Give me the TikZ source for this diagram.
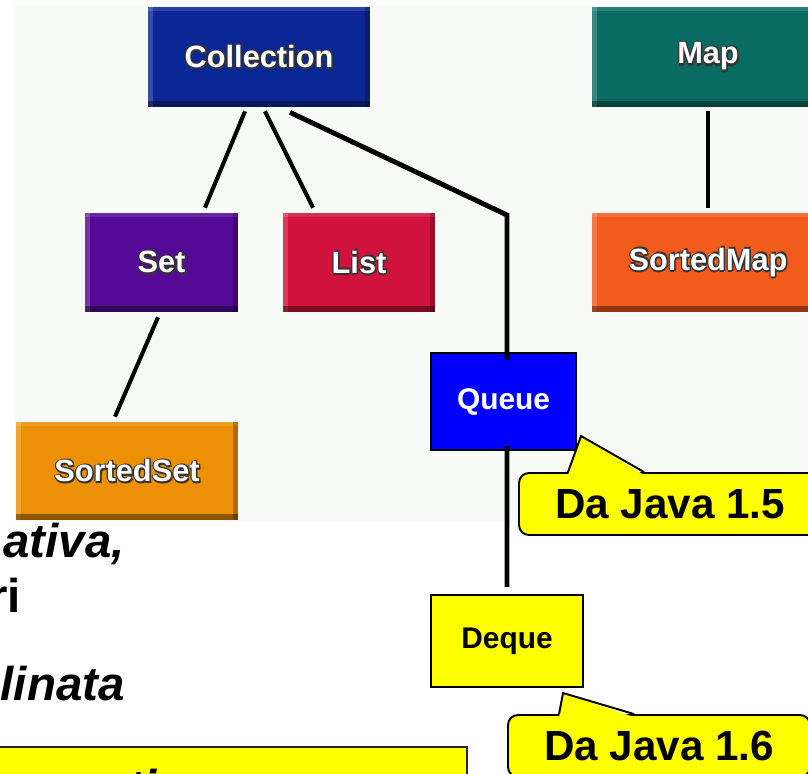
\documentclass[tikz,border=0pt]{standalone}
\usepackage{fontspec}
\setmainfont{Liberation Sans}
\usepackage{tikz}
\usepackage{xcolor}
\definecolor{collblue}{HTML}{0B2796}
\definecolor{mapteal}{HTML}{0A6B63}
\definecolor{setpurple}{HTML}{540A96}
\definecolor{listred}{HTML}{D1123C}
\definecolor{smaporange}{HTML}{F25B1B}
\definecolor{ssetorange}{HTML}{EE9005}
\definecolor{queueblue}{HTML}{0000FF}
\definecolor{noteyellow}{HTML}{FFFF00}
\definecolor{gifpaper}{HTML}{F8FAF8}

\newcommand{\glowlabel}[1]{\leavevmode
  \rlap{\color{black!80}\kern0.9pt\lower0.9pt\hbox{#1}}%
  \rlap{\color{black!80}\kern-0.7pt\hbox{#1}}%
  \rlap{\color{black!80}\kern0.7pt\raise0.7pt\hbox{#1}}%
  \rlap{\color{black!80}\kern0.7pt\lower0.7pt\hbox{#1}}%
  \rlap{\color{black!80}\lower1.2pt\hbox{#1}}%
  \hbox{#1}}

\begin{document}
\begin{tikzpicture}[
    gifbox/.style={rectangle, fill=#1, text=white, inner sep=0,
      font=\fontsize{17.5}{20}\selectfont\bfseries,
      path picture={
        \fill[white,opacity=0.18] (path picture bounding box.north west) rectangle ([xshift=0.1cm]path picture bounding box.south west);
        \fill[white,opacity=0.12] (path picture bounding box.north west) rectangle ([yshift=-0.08cm]path picture bounding box.north east);
        \fill[black,opacity=0.25] ([xshift=-0.1cm]path picture bounding box.north east) rectangle (path picture bounding box.south east);
        \fill[black,opacity=0.4] ([yshift=0.12cm]path picture bounding box.south west) rectangle (path picture bounding box.south east);
      }},
    flatbox/.style={rectangle, draw=black, line width=1.2pt, fill=#1, inner sep=0,
      font=\fontsize{17}{20}\selectfont\bfseries},
    callout/.style={rectangle, rounded corners=0.2cm, draw=black, line width=1.1pt,
      fill=noteyellow, minimum width=6.04cm, minimum height=1.24cm,
      font=\fontsize{24}{28}\selectfont\bfseries},
    link/.style={line width=2.3pt, black},
    thicklink/.style={line width=2.8pt, black},
    bigtext/.style={inner sep=0, font=\fontsize{27}{32}\selectfont\bfseries},
    slanttext/.style={inner sep=0, font=\fontsize{27}{32}\selectfont\bfseries\itshape}]
  \useasboundingbox (0,0) rectangle (16.16,-15.46);
  \clip (0,0) rectangle (16.16,-15.46);
  \fill[white] (0,0) rectangle (16.16,-15.46);
  \fill[gifpaper] (0.3,-0.1) rectangle (16.4,-10.44);

  \node[gifbox=collblue, minimum width=4.44cm, minimum height=2cm] (coll) at (5.18,-1.14) {\glowlabel{Collection}};
  \node[gifbox=mapteal, minimum width=4.64cm, minimum height=2cm] (map) at (14.16,-1.14) {\glowlabel{Map}};
  \node[gifbox=setpurple, minimum width=3.06cm, minimum height=1.98cm] (set) at (3.23,-5.25) {\glowlabel{Set}};
  \node[gifbox=listred, minimum width=3.04cm, minimum height=1.98cm] (list) at (7.18,-5.25) {\glowlabel{List}};
  \node[gifbox=smaporange, minimum width=4.64cm, minimum height=1.98cm] (smap) at (14.16,-5.25) {\glowlabel{SortedMap}};
  \node[gifbox=ssetorange, minimum width=4.44cm, minimum height=1.96cm] (sset) at (2.54,-9.42) {\glowlabel{SortedSet}};

  \draw[link] ([xshift=-0.28cm,yshift=-0.08cm]coll.south) -- ([xshift=0.87cm,yshift=0.1cm]set.north);
  \draw[link] ([xshift=0.12cm,yshift=-0.08cm]coll.south) -- ([xshift=-0.92cm,yshift=0.1cm]list.north);
  \draw[link] ([yshift=-0.08cm]map.south) -- ([yshift=0.1cm]smap.north);
  \draw[link] ([xshift=-0.07cm,yshift=-0.1cm]set.south) -- ([xshift=-0.24cm,yshift=0.1cm]sset.north);

  \node[flatbox=queueblue, text=white, minimum width=2.9cm, minimum height=1.94cm] (queue) at (10.07,-8.03) {Queue};
  \node[flatbox=noteyellow, text=black, minimum width=3.04cm, minimum height=1.84cm] (deque) at (10.14,-12.82) {Deque};

  \coordinate (qbend) at (10.14,-4.30);
  \draw[thicklink] ([xshift=0.62cm,yshift=-0.1cm]coll.south) -- (qbend) -- ([xshift=0.07cm,yshift=-0.16cm]queue.north);
  \draw[thicklink] ([xshift=0.07cm,yshift=0.1cm]queue.south) -- ([yshift=0.14cm]deque.north);

  \node[callout] (c15) at (13.40,-10.08) {Da Java 1.5};
  \fill[noteyellow] ([xshift=1.0cm,yshift=-0.06cm]c15.north west) -- ([xshift=1.26cm,yshift=0.72cm]c15.north west) -- ([xshift=2.52cm,yshift=-0.06cm]c15.north west) -- cycle;
  \draw[line width=1.1pt, line join=miter] ([xshift=1.0cm]c15.north west) -- ([xshift=1.26cm,yshift=0.72cm]c15.north west) -- ([xshift=2.52cm]c15.north west);

  \node[callout] (c16) at (13.18,-14.92) {Da Java 1.6};
  \fill[noteyellow] ([xshift=1.04cm,yshift=-0.06cm]c16.north west) -- ([xshift=1.12cm,yshift=0.42cm]c16.north west) -- ([xshift=2.54cm,yshift=-0.06cm]c16.north west) -- cycle;
  \draw[line width=1.1pt, line join=miter] ([xshift=1.04cm]c16.north west) -- ([xshift=1.12cm,yshift=0.42cm]c16.north west) -- ([xshift=2.54cm]c16.north west);

  \node[slanttext, anchor=base east] (ativa) at (2.5,-11.14) {ativa,};
  \node[bigtext, anchor=base east] (ri) at (0.43,-12.24) {ri};
  \node[slanttext, anchor=base east] (linata) at (2.5,-14.0) {linata};

  \node[rectangle, draw=black!85, line width=1.1pt, fill=noteyellow, minimum width=9.56cm, minimum height=1.2cm, anchor=north east] (note) at (9.36,-14.92) {};
  \node[slanttext, anchor=north west] (notetext) at (2.55,-15.38) {ti};
\end{tikzpicture}
\end{document}
